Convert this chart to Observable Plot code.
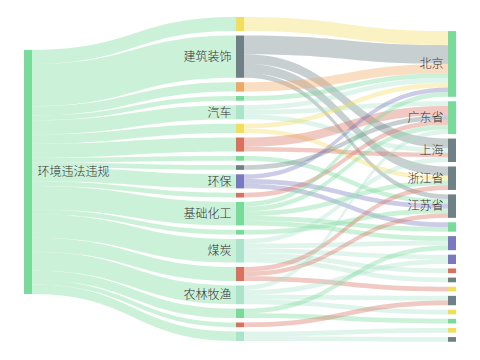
<!DOCTYPE html>
<html><head><meta charset="utf-8">
<script src="https://cdn.jsdelivr.net/npm/d3@7"></script>
<script src="https://cdn.jsdelivr.net/npm/@observablehq/plot@0.6"></script>
<style>body{margin:0;background:#fff}</style>
</head><body><div id="chart"></div>
<script>
// ---- data ----
const rootName = "环境违法违规";
const midNames = ["", "建筑装饰", "", "", "汽车", "", "", "", "", "环保", "", "基础化工", "", "煤炭", "", "农林牧渔", "", "", ""];
const midValues = [3, 9, 2, 1, 3, 2, 3, 1, 1, 3, 1, 5, 1, 5, 3, 4, 2, 1, 2];
const rightNames = ["北京", "广东省", "上海", "浙江省", "江苏省", "", "", "", "", "", "", "", "", "", "", ""];
const rightValues = [14, 7, 5, 5, 5, 2, 3, 2, 1, 1, 1, 2, 1, 1, 1, 1];
// flows: middle index -> right index, value
const flowSrc = [0, 1, 1, 1, 1, 2, 3, 4, 4, 4, 5, 5, 6, 6, 7, 8, 9, 9, 9, 10, 11, 11, 11, 11, 11, 12, 13, 13, 13, 13, 13, 14, 14, 14, 15, 15, 15, 15, 16, 16, 17, 18, 18];
const flowTgt = [0, 0, 2, 3, 4, 0, 0, 0, 1, 2, 0, 3, 1, 2, 4, 1, 0, 4, 5, 1, 0, 1, 3, 5, 6, 4, 2, 6, 7, 8, 9, 3, 4, 10, 1, 7, 11, 12, 6, 13, 11, 14, 15];
const flowVal = [3, 4, 2, 2, 1, 2, 1, 1, 1, 1, 1, 1, 2, 1, 1, 1, 1, 1, 1, 1, 1, 1, 1, 1, 1, 1, 1, 1, 1, 1, 1, 1, 1, 1, 1, 1, 1, 1, 1, 1, 1, 1, 1];

// ---- palette ----
const C = {yellow: "#f1de5e", grey: "#6f8187", orange: "#eea865", green: "#79db9a", teal: "#abe3cb", red: "#d8725f", purple: "#7a78be"};
const rootColor = C.green;
const midColors = ["yellow","grey","orange","green","teal","yellow","red","green","grey","purple","red","green","green","teal","red","teal","green","red","teal"].map(k => C[k]);
const rightColors = ["green","green","grey","grey","grey","green","purple","purple","red","grey","yellow","grey","yellow","green","yellow","grey"].map(k => C[k]);

// ---- layout (value units on y) ----
const gapU = 0.945, nodeW = 8;
const colX = [24, 236, 448];
const colTop = [7.0, 0, 3.0];
const total = d3.sum(midValues);
const span = total + (midValues.length - 1) * gapU;

const nodes = [];
nodes.push({name: rootName, col: 0, value: total, color: rootColor, y0: colTop[0], y1: colTop[0] + total});
let yy = colTop[1];
const mids = midValues.map((v, i) => { const n = {name: midNames[i], col: 1, value: v, color: midColors[i], y0: yy, y1: yy + v}; yy += v + gapU; nodes.push(n); return n; });
yy = colTop[2];
const rights = rightValues.map((v, i) => { const n = {name: rightNames[i], col: 2, value: v, color: rightColors[i], y0: yy, y1: yy + v}; yy += v + gapU; nodes.push(n); return n; });
nodes.forEach(n => { n.xa = colX[n.col]; n.xb = colX[n.col] + nodeW; n.cy = (n.y0 + n.y1) / 2; n.lx = n.col === 0 ? n.xb + 5 : n.xa - 5; });

const links = [];
let ry = nodes[0].y0;
mids.forEach(m => { links.push({s: nodes[0], t: m, sy: ry, ty: m.y0, v: m.value, color: rootColor}); ry += m.value; });
const flows = flowSrc.map((s, i) => ({s, t: flowTgt[i], v: flowVal[i]}));
const outOff = mids.map(m => m.y0), inOff = rights.map(r => r.y0);
flows.slice().sort((a, b) => a.s - b.s || a.t - b.t).forEach(f => { f.sy = outOff[f.s]; outOff[f.s] += f.v; });
flows.slice().sort((a, b) => a.t - b.t || a.s - b.s).forEach(f => { f.ty = inOff[f.t]; inOff[f.t] += f.v; });
flows.forEach(f => links.push({s: mids[f.s], t: rights[f.t], sy: f.sy, ty: f.ty, v: f.v, color: midColors[f.s]}));

const pts = [];
links.forEach((l, i) => {
  pts.push({id: i, x: l.s.xb, y1: l.sy, y2: l.sy + l.v, c: l.color});
  pts.push({id: i, x: l.t.xa, y1: l.ty, y2: l.ty + l.v, c: l.color});
});

const startLabels = nodes.filter(n => n.name && n.col === 0);
const endLabels = nodes.filter(n => n.name && n.col > 0);
const font = "'Noto Sans CJK SC', 'Noto Sans', sans-serif";

const chart = Plot.plot({
  width: 480, height: 360, margin: 0,
  x: {domain: [0, 480], range: [0, 480], axis: null},
  y: {domain: [0, span], range: [17, 341], axis: null},
  color: {type: "identity"},
  style: {fontFamily: font, fontSize: "12px", background: "#fff"},
  marks: [
    Plot.areaY(pts, {x: "x", y1: "y1", y2: "y2", z: "id", fill: "c", fillOpacity: 0.38, curve: "bump-x"}),
    Plot.rect(nodes, {x1: "xa", x2: "xb", y1: "y0", y2: "y1", fill: "color"}),
    Plot.text(startLabels, {x: "lx", y: "cy", text: "name", textAnchor: "start", fill: "#333", fontSize: 12, fontWeight: 300}),
    Plot.text(endLabels, {x: "lx", y: "cy", text: "name", textAnchor: "end", fill: "#333", fontSize: 12, fontWeight: 300})
  ]
});
document.getElementById("chart").appendChild(chart);
</script>
</body></html>
